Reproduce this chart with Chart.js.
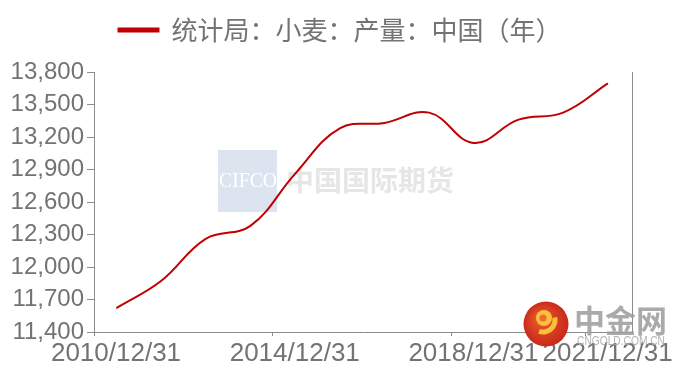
<!DOCTYPE html>
<html>
<head>
<meta charset="utf-8">
<script src="https://cdn.jsdelivr.net/npm/chart.js@4.4.1/dist/chart.umd.min.js"></script>
<style>
  html, body { margin: 0; padding: 0; background: #fff; }
  #wrap { width: 680px; height: 372px; }
</style>
</head>
<body>
<div id="wrap"><canvas id="wheat"></canvas></div>
<script>
// 统计局 小麦产量 (万吨), yearly
var years = [2010, 2011, 2012, 2013, 2014, 2015, 2016, 2017, 2018, 2019, 2020, 2021];
var output = [11620, 11870, 12260, 12380, 12860, 13280, 13330, 13425, 13145, 13360, 13425, 13695];
var tickYears = [2010, 2014, 2018, 2021];
var seriesName = '统计局：小麦：产量：中国（年）';

var axisGray = '#8c8c8c';
var textGray = '#737373';
var lineRed = '#c00000';

// points sit in the middle of each year on the time axis
var points = years.map(function (y, i) {
  return { x: y + 0.5, y: output[i] };
});

// extra room under the legend
var legendGap = {
  id: 'legendGap',
  afterInit: function (chart) {
    var lg = chart.legend;
    if (!lg) return;
    var fit = lg.fit;
    lg.fit = function () {
      fit.call(this);
      this.height += 19;
    };
  }
};

var watermark = {
  id: 'watermark',
  beforeDatasetsDraw: function (chart) {
    var ctx = chart.ctx;
    ctx.save();
    ctx.fillStyle = '#dce5ef';
    ctx.fillRect(218, 150, 59, 62);
    ctx.fillStyle = '#ffffff';
    ctx.font = '21px "Liberation Serif"';
    ctx.textBaseline = 'middle';
    ctx.textAlign = 'left';
    ctx.fillText('CIFCO', 219, 181, 58);
    ctx.fillStyle = '#e6e6e6';
    ctx.font = 'bold 28px "Noto Sans CJK SC"';
    ctx.fillText('中国国际期货', 286, 180);
    ctx.restore();
  },
  afterDraw: function (chart) {
    var ctx = chart.ctx;
    ctx.save();
    var g = ctx.createRadialGradient(540, 318, 4, 546, 324, 23);
    g.addColorStop(0, '#e8552a');
    g.addColorStop(1, '#c8281a');
    ctx.fillStyle = g;
    ctx.beginPath();
    ctx.arc(546, 324, 22.5, 0, Math.PI * 2);
    ctx.fill();
    ctx.fillStyle = '#f7c23a';
    ctx.beginPath();
    ctx.arc(544, 318, 8, 0, Math.PI * 2);
    ctx.fill();
    ctx.strokeStyle = '#f7c23a';
    ctx.lineWidth = 5;
    ctx.beginPath();
    ctx.arc(543, 320, 12, -0.2, 1.9);
    ctx.stroke();
    ctx.fillStyle = '#ef6a2d';
    ctx.beginPath();
    ctx.arc(543, 318, 3.5, 0, Math.PI * 2);
    ctx.fill();
    ctx.fillStyle = 'rgba(155,155,155,0.85)';
    ctx.font = 'bold 31px "Noto Sans CJK SC"';
    ctx.textBaseline = 'middle';
    ctx.textAlign = 'left';
    ctx.fillText('中金网', 574, 320);
    ctx.fillStyle = 'rgba(170,170,170,0.9)';
    ctx.font = '12px "Liberation Sans"';
    ctx.fillText('CNGOLD.COM.CN', 577, 342, 88);
    ctx.restore();
  }
};

new Chart(document.getElementById('wheat'), {
  type: 'line',
  data: {
    datasets: [{
      label: seriesName,
      data: points,
      borderColor: lineRed,
      backgroundColor: lineRed,
      borderWidth: 2,
      pointRadius: 0,
      tension: 0.4,
      fill: false
    }]
  },
  plugins: [legendGap, watermark],
  options: {
    responsive: true,
    maintainAspectRatio: false,
    animation: false,
    layout: { padding: { top: 7, left: 0, right: 0, bottom: 0 } },
    plugins: {
      tooltip: { enabled: false },
      legend: {
        position: 'top',
        labels: {
          boxWidth: 40,
          boxHeight: 3,
          padding: 10,
          color: textGray,
          font: { family: '"Noto Sans CJK SC"', size: 26 }
        }
      }
    },
    scales: {
      x: {
        type: 'linear',
        min: 2010,
        max: 2022.04,
        afterBuildTicks: function (scale) {
          scale.ticks = tickYears.map(function (v) { return { value: v }; });
        },
        afterFit: function (scale) { scale.height = 40; },
        grid: { drawOnChartArea: false, tickLength: 4, color: axisGray },
        border: { color: axisGray, width: 1 },
        ticks: {
          color: textGray,
          labelOffset: 22,
          maxRotation: 0,
          autoSkip: false,
          padding: 2,
          font: { family: '"Liberation Sans"', size: 26 },
          callback: function (v) { return v + '/12/31'; }
        }
      },
      y: {
        min: 11400,
        max: 13800,
        afterFit: function (scale) { scale.width = 94; },
        grid: { drawOnChartArea: false, tickLength: 7, color: axisGray },
        border: { color: axisGray, width: 1 },
        ticks: {
          stepSize: 300,
          color: textGray,
          padding: 3,
          font: { family: '"Liberation Sans"', size: 24 },
          callback: function (v) { return v.toLocaleString('en-US'); }
        }
      },
      y2: {
        position: 'right',
        min: 11400,
        max: 13800,
        afterFit: function (scale) { scale.width = 48; },
        grid: { display: false },
        border: { color: axisGray, width: 1 },
        ticks: { display: false }
      }
    }
  }
});
</script>
</body>
</html>
